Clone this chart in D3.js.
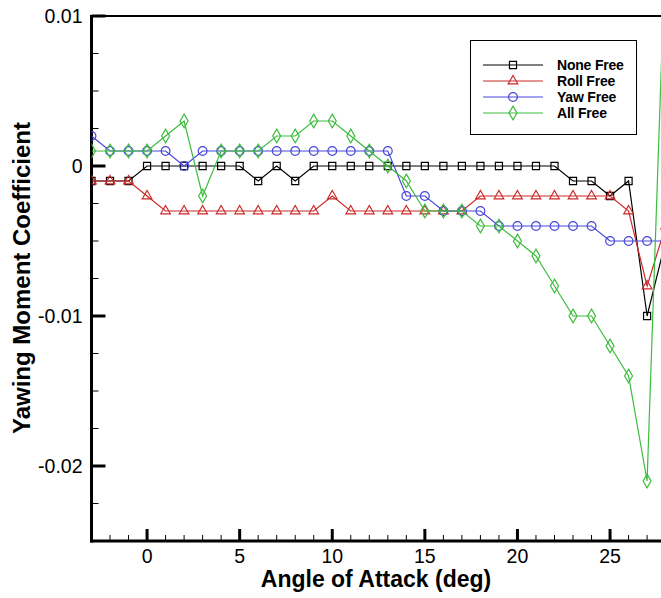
<!DOCTYPE html>
<html>
<head>
<meta charset="utf-8">
<script src="https://cdn.jsdelivr.net/npm/d3@7"></script>
<style>
  html, body { margin: 0; padding: 0; background: #fff; }
  svg { display: block; }
  text { font-family: "Liberation Sans", Arial, sans-serif; }
</style>
</head>
<body>
<svg id="chart" width="661" height="598"></svg>
<script>
// Angle of attack samples (deg)
const alpha = [-3, -2, -1, 0, 1, 2, 3, 4, 5, 6, 7, 8, 9, 10, 11, 12, 13, 14, 15,
               16, 17, 18, 19, 20, 21, 22, 23, 24, 25, 26, 27, 28];

// Yawing moment coefficient for each configuration
const noneFree = [-0.001, -0.001, -0.001, 0, 0, 0, 0, 0, 0, -0.001, 0, -0.001, 0, 0, 0, 0, 0, 0, 0,
                  0, 0, 0, 0, 0, 0, 0, -0.001, -0.001, -0.002, -0.001, -0.010, -0.005];
const rollFree = [-0.001, -0.001, -0.001, -0.002, -0.003, -0.003, -0.003, -0.003, -0.003, -0.003, -0.003, -0.003, -0.003, -0.002, -0.003, -0.003, -0.003, -0.003, -0.003,
                  -0.003, -0.003, -0.002, -0.002, -0.002, -0.002, -0.002, -0.002, -0.002, -0.002, -0.003, -0.008, -0.004];
const yawFree  = [0.002, 0.001, 0.001, 0.001, 0.001, 0, 0.001, 0.001, 0.001, 0.001, 0.001, 0.001, 0.001, 0.001, 0.001, 0.001, 0.001, -0.002, -0.002,
                  -0.003, -0.003, -0.003, -0.004, -0.004, -0.004, -0.004, -0.004, -0.004, -0.005, -0.005, -0.005, -0.005];
const allFree  = [0.001, 0.001, 0.001, 0.001, 0.002, 0.003, -0.002, 0.001, 0.001, 0.001, 0.002, 0.002, 0.003, 0.003, 0.002, 0.001, 0, -0.001, -0.003,
                  -0.003, -0.003, -0.004, -0.004, -0.005, -0.006, -0.008, -0.010, -0.010, -0.012, -0.014, -0.021, 0.015];

const seriesNames = ["None Free", "Roll Free", "Yaw Free", "All Free"];
const xTickValues = [0, 5, 10, 15, 20, 25];
const yTickValues = [-0.02, -0.01, 0, 0.01];
const xTitle = "Angle of Attack (deg)";
const yTitle = "Yawing Moment Coefficient";

const seriesData = [noneFree, rollFree, yawFree, allFree];
const colors = ["#000000", "#cc2a2a", "#4646dc", "#3cbc3c"];
const symbols = [d3.symbolSquare, d3.symbolTriangle, d3.symbolCircle, d3.symbolDiamond];
const symSize = [50, 40, 60, 55];

const svg = d3.select("#chart");

const x = d3.scaleLinear().domain([-3, 30]).range([91.5, 91.5 + 33 * 18.52]);
const y = d3.scaleLinear().domain([-0.025, 0.01]).range([541, 16]);

const plotL = x.range()[0], plotR = x.range()[1];
const plotT = y.range()[1], plotB = y.range()[0];

svg.append("defs").append("clipPath").attr("id", "plotClip")
  .append("rect").attr("x", plotL).attr("y", plotT)
  .attr("width", plotR - plotL).attr("height", plotB - plotT);

// Frame around the plot area
svg.append("rect")
  .attr("x", plotL).attr("y", plotT)
  .attr("width", plotR - plotL).attr("height", plotB - plotT)
  .attr("fill", "none").attr("stroke", "#000").attr("stroke-width", 2);

// Y axis minor + major ticks (pointing inward)
const yMinor = d3.range(-0.025, 0.01 + 1e-9, 0.0025).map(v => +v.toFixed(4));
svg.append("g").selectAll("line").data(yMinor).join("line")
  .attr("x1", plotL).attr("x2", plotL + 7)
  .attr("y1", d => y(d)).attr("y2", d => y(d))
  .attr("stroke", "#000").attr("stroke-width", 1);
svg.append("g").selectAll("line").data(yTickValues).join("line")
  .attr("x1", plotL).attr("x2", plotL + 14)
  .attr("y1", d => y(d)).attr("y2", d => y(d))
  .attr("stroke", "#000").attr("stroke-width", 3);

// X axis minor + major ticks
const xMinor = d3.range(-2, 31, 1);
svg.append("g").selectAll("line").data(xMinor).join("line")
  .attr("x1", d => x(d)).attr("x2", d => x(d))
  .attr("y1", plotB).attr("y2", plotB - 6)
  .attr("stroke", "#000").attr("stroke-width", 1);
svg.append("g").selectAll("line").data(xTickValues.concat([30])).join("line")
  .attr("x1", d => x(d)).attr("x2", d => x(d))
  .attr("y1", plotB).attr("y2", plotB - 12)
  .attr("stroke", "#000").attr("stroke-width", 3);

// Heavy axis lines
svg.append("line").attr("x1", plotL).attr("x2", plotL).attr("y1", plotT - 1).attr("y2", plotB + 1.5)
  .attr("stroke", "#000").attr("stroke-width", 3);
svg.append("line").attr("x1", plotL - 1.5).attr("x2", plotR).attr("y1", plotB).attr("y2", plotB)
  .attr("stroke", "#000").attr("stroke-width", 3);

// Tick labels
const yFmt = d => d === 0 ? "0" : d3.format(".2f")(d).replace("−", "-");
svg.append("g").selectAll("text").data(yTickValues).join("text")
  .attr("x", plotL - 9).attr("y", d => y(d) + 7)
  .attr("text-anchor", "end").attr("font-size", 19.5).attr("fill", "#000")
  .text(yFmt);
svg.append("g").selectAll("text").data(xTickValues).join("text")
  .attr("x", d => x(d)).attr("y", plotB + 22)
  .attr("text-anchor", "middle").attr("font-size", 19.5).attr("fill", "#000")
  .text(d => d);

// Axis titles
svg.append("text").attr("x", 376).attr("y", 587)
  .attr("text-anchor", "middle").attr("font-size", 23).attr("font-weight", "bold")
  .text(xTitle);
svg.append("text").attr("transform", `translate(30, 278) rotate(-90)`)
  .attr("text-anchor", "middle").attr("font-size", 24).attr("font-weight", "bold")
  .text(yTitle);

// Series lines and markers
const plot = svg.append("g").attr("clip-path", "url(#plotClip)");
const line = d3.line().x(d => x(d[0])).y(d => y(d[1]));

seriesData.forEach((vals, i) => {
  const pts = alpha.map((a, j) => [a, vals[j]]);
  plot.append("path").datum(pts)
    .attr("d", line).attr("fill", "none")
    .attr("stroke", colors[i]).attr("stroke-width", 1.2);
  plot.append("g").selectAll("path").data(pts).join("path")
    .attr("transform", d => `translate(${x(d[0])},${y(d[1])})`)
    .attr("d", d3.symbol().type(symbols[i]).size(symSize[i]))
    .attr("fill", "none").attr("stroke", colors[i]).attr("stroke-width", 1.2);
});

// Legend
const lg = svg.append("g");
lg.append("rect").attr("x", 470.5).attr("y", 40.5).attr("width", 166).attr("height", 94)
  .attr("fill", "#fff").attr("stroke", "#000").attr("stroke-width", 1);
const rowY = [65, 81, 97, 113];
seriesNames.forEach((name, i) => {
  lg.append("line").attr("x1", 483).attr("x2", 543).attr("y1", rowY[i]).attr("y2", rowY[i])
    .attr("stroke", colors[i]).attr("stroke-width", 1.2);
  lg.append("path").attr("transform", `translate(513,${rowY[i]})`)
    .attr("d", d3.symbol().type(symbols[i]).size(symSize[i]))
    .attr("fill", "none").attr("stroke", colors[i]).attr("stroke-width", 1.2);
  lg.append("text").attr("x", 557).attr("y", rowY[i] + 5)
    .attr("font-size", 14).attr("font-weight", "bold").attr("letter-spacing", -0.2)
    .text(name);
});
</script>
</body>
</html>
